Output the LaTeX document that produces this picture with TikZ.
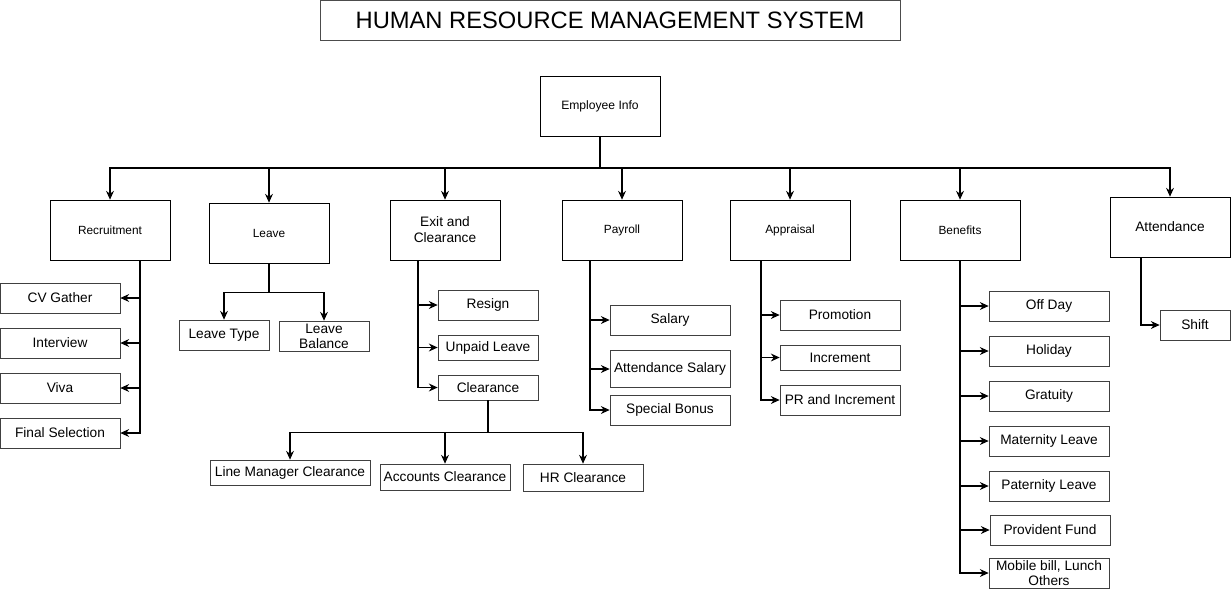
\documentclass[tikz,border=0pt]{standalone}
\usepackage{fontspec}
\setmainfont{Liberation Sans}
\usepackage{tikz}
\usetikzlibrary{arrows.meta,positioning}

\begin{document}
\begin{tikzpicture}
[x=0.02cm, y=-0.02cm]
\tikzset{
	titlebox/.style = {draw=black!70, minimum width=11.6cm, minimum height=0.8cm, font=\fontsize{13.5}{15}\selectfont},
	topbox/.style = {draw, minimum width=2.4cm, minimum height=1.2cm, font=\fontsize{6.9}{8}\selectfont},
	catbox/.style = {draw, minimum width=2.4cm, minimum height=1.2cm, align=center, font=\fontsize{6.75}{8}\selectfont},
	bigcat/.style = {catbox, font=\fontsize{7.8}{9}\selectfont},
	leafbox/.style = {draw=black!75, minimum width=2.4cm, minimum height=0.6cm, inner sep=1pt, align=center, font=\fontsize{7.8}{8.6}\selectfont},
	twoline/.style = {leafbox, inner ysep=0pt},
	link/.style = {line width=0.6pt},
	arr/.style = {link, -{Stealth[length=5pt,width=4.5pt]}}
}
\useasboundingbox (0,0) rectangle (1231,589);

\node (title) [titlebox] at (610,20) {HUMAN RESOURCE MANAGEMENT SYSTEM};
\node (emp) [topbox] at (600,106) {Employee Info};

\node (rec) [catbox] at (110,230) {Recruitment};
\node (lea) [catbox] at (269,233) {Leave};
\node (exi) [bigcat, minimum width=2.2cm] at (445,230) {Exit and\\Clearance};
\node (pay) [catbox] at (622,230) {Payroll};
\node (app) [catbox] at (790,230) {Appraisal};
\node (ben) [catbox] at (960,230) {Benefits};
\node (att) [bigcat] at (1170,227) {Attendance};

\node (cv) [leafbox] at (60,298) {CV Gather};
\node (int) [leafbox] at (60,343) {Interview};
\node (viva) [leafbox] at (60,388) {Viva};
\node (fin) [leafbox] at (60,433) {Final Selection};

\node (ltype) [leafbox, minimum width=1.8cm] at (224,335) {Leave Type};
\node (lbal) [twoline, minimum width=1.8cm] at (324,336) {Leave\\Balance};

\node (res) [leafbox, minimum width=2cm] at (488,305) {Resign};
\node (unp) [leafbox, minimum width=2cm, minimum height=0.5cm] at (488,347.5) {Unpaid Leave};
\node (clr) [leafbox, minimum width=2cm, minimum height=0.5cm] at (488,387.5) {Clearance};
\node (lmc) [leafbox, minimum width=3.2cm, minimum height=0.5cm] at (290,472.5) {Line Manager Clearance};
\node (acc) [leafbox, minimum width=2.6cm, minimum height=0.52cm] at (445,477) {Accounts Clearance};
\node (hrc) [leafbox, minimum height=0.54cm] at (583,477.5) {HR Clearance};

\node (sal) [leafbox] at (670,320) {Salary};
\node (asal) [leafbox, minimum height=0.74cm] at (670,369) {Attendance Salary};
\node (sbon) [leafbox] at (670,410) {Special Bonus};

\node (pro) [leafbox] at (840,315) {Promotion};
\node (inc) [leafbox, minimum height=0.5cm] at (840,357.5) {Increment};
\node (pri) [leafbox] at (840,400) {PR and Increment};

\node (off) [leafbox] at (1049,306) {Off Day};
\node (hol) [leafbox] at (1049,351) {Holiday};
\node (gra) [leafbox] at (1049,396) {Gratuity};
\node (mat) [leafbox] at (1049,441) {Maternity Leave};
\node (pat) [leafbox] at (1049,486) {Paternity Leave};
\node (pf) [leafbox] at (1050,530) {Provident Fund};
\node (mob) [twoline] at (1049,573) {Mobile bill, Lunch\\Others};

\node (shift) [leafbox, minimum width=1.4cm] at (1195,325) {Shift};

\coordinate (bus) at (600,168);
\draw [link] (emp) -- (bus);
\foreach \c in {rec,lea,exi,pay,app,ben,att}
	\draw [arr] (bus) -| (\c);

\foreach \l in {cv,int,viva,fin}
	\draw [arr] ([xshift=0.6cm]rec.south) |- (\l);

\coordinate (leasplit) at ([yshift=-0.58cm]lea.south);
\draw [link] (lea) -- (leasplit);
\foreach \l in {ltype,lbal}
	\draw [arr] (leasplit) -| (\l);

\foreach \l in {res,unp,clr}
	\draw [arr] ([xshift=-0.54cm]exi.south) |- (\l);

\coordinate (clrsplit) at ([yshift=-0.64cm]clr.south);
\draw [link] (clr) -- (clrsplit);
\foreach \l in {lmc,acc,hrc}
	\draw [arr] (clrsplit) -| (\l);

\foreach \l in {sal,asal,sbon}
	\draw [arr] ([xshift=-0.64cm]pay.south) |- (\l);

\foreach \l in {pro,inc,pri}
	\draw [arr] ([xshift=-0.58cm]app.south) |- (\l);

\foreach \l in {off,hol,gra,mat,pat,pf,mob}
	\draw [arr] (ben.south) |- (\l);

\draw [arr] ([xshift=-0.58cm]att.south) |- (shift);
\end{tikzpicture}
\end{document}
